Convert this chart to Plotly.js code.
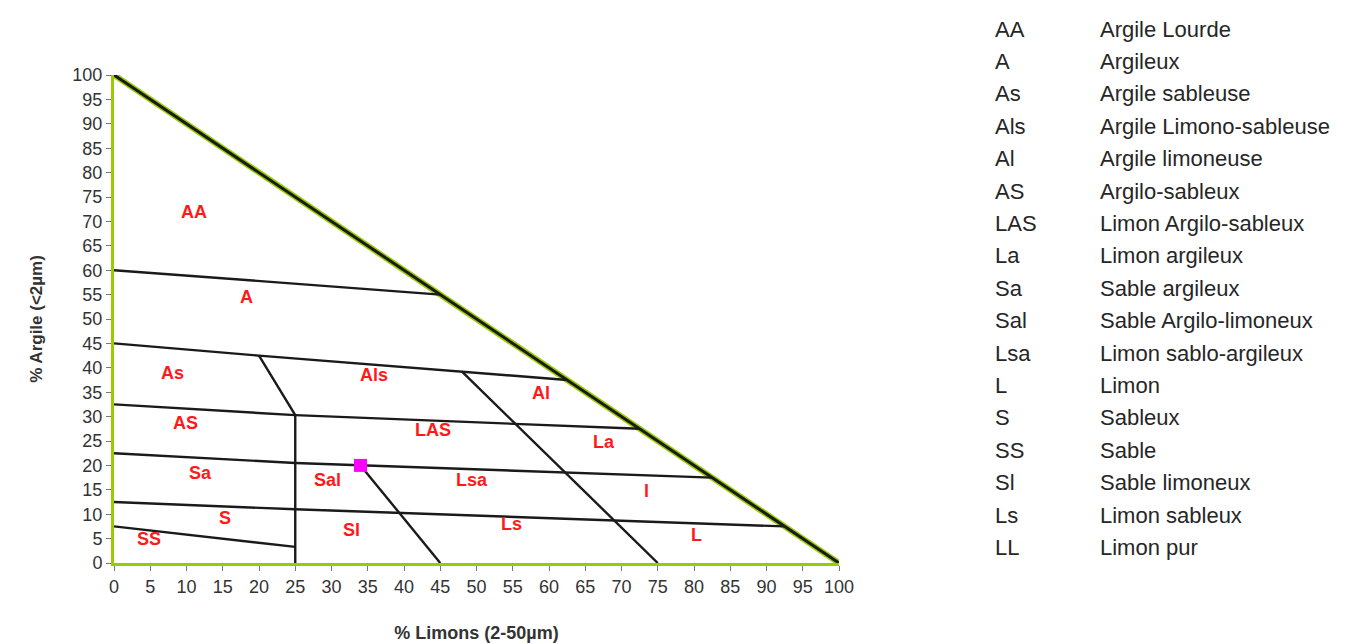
<!DOCTYPE html>
<html>
<head>
<meta charset="utf-8">
<script src="https://cdn.plot.ly/plotly-3.0.1.min.js"></script>
<style>html,body{margin:0;padding:0;background:#fff;}#chart{width:1369px;height:643px;}</style>
</head>
<body>
<div id="chart"></div>
<script>
// Triangle boundary (hypotenuse)
const hypX = [0, 100];
const hypY = [100, 0];
// Class boundary lines (% Limons, % Argile)
const line60X = [0, 45];          const line60Y = [60, 55];
const line45X = [0, 20, 62.5];    const line45Y = [45, 42.5, 37.5];
const line32X = [0, 25, 72.5];    const line32Y = [32.5, 30.3, 27.5];
const line22X = [0, 25, 82.5];    const line22Y = [22.5, 20.5, 17.5];
const line12X = [0, 25, 92.5];    const line12Y = [12.5, 11, 7.5];
const lineSSX = [0, 25];          const lineSSY = [7.5, 3.3];
const line25X = [20, 25, 25];     const line25Y = [42.5, 30.3, 0];
const diag45X = [34, 45];         const diag45Y = [20, 0];
const diag75X = [48, 75];         const diag75Y = [39.2, 0];
// Sample point
const sampleX = [34];
const sampleY = [20];
// Region labels
const regionNames = ["AA","A","As","Als","Al","AS","LAS","La","Sa","Sal","Lsa","l","S","Sl","Ls","L","SS"];
const regionX =     [11, 18.3, 8.1, 35.9, 58.9, 9.9, 44, 67.6, 11.9, 29.5, 49.4, 73.4, 15.3, 32.7, 54.8, 80.4, 4.8];
const regionY =     [72, 54.5, 38.9, 38.5, 34.8, 28.7, 27.3, 24.8, 18.4, 17, 17, 14.8, 9.2, 6.8, 8, 5.7, 4.9];
// Legend table
const legendCodes = ["AA","A","As","Als","Al","AS","LAS","La","Sa","Sal","Lsa","L","S","SS","Sl","Ls","LL"];
const legendNames = ["Argile Lourde","Argileux","Argile sableuse","Argile Limono-sableuse","Argile limoneuse",
  "Argilo-sableux","Limon Argilo-sableux","Limon argileux","Sable argileux","Sable Argilo-limoneux",
  "Limon sablo-argileux","Limon","Sableux","Sable","Sable limoneux","Limon sableux","Limon pur"];
const xTitle = "% Limons (2-50µm)";
const yTitle = "% Argile (<2µm)";

const FONT = "Liberation Sans, Arial, sans-serif";
const traces = [];
traces.push({x: hypX, y: hypY, mode: 'lines', line: {color: '#99cc00', width: 6}, hoverinfo: 'skip', cliponaxis: false});
traces.push({x: hypX, y: hypY, mode: 'lines', line: {color: '#1a1a1a', width: 3}, hoverinfo: 'skip', cliponaxis: false});
const inner = [[line60X,line60Y],[line45X,line45Y],[line32X,line32Y],[line22X,line22Y],[line12X,line12Y],
  [lineSSX,lineSSY],[line25X,line25Y],[diag45X,diag45Y],[diag75X,diag75Y]];
inner.forEach(([xs, ys]) => traces.push({x: xs, y: ys, mode: 'lines', line: {color: '#1a1a1a', width: 2.4}, hoverinfo: 'skip', cliponaxis: false}));
traces.push({x: sampleX, y: sampleY, mode: 'markers', marker: {symbol: 'square', size: 13, color: '#ff00ff'}, cliponaxis: false});

const L = 114, R = 839, T = 75, B = 563;
const annotations = regionNames.map((t, i) => ({
  x: regionX[i], y: regionY[i], xref: 'x', yref: 'y', text: '<b>' + t + '</b>', showarrow: false,
  font: {family: FONT, size: 18, color: '#ff1a1a'}
}));
const rowTop = 29, rowStep = 32.4;
legendCodes.forEach((c, i) => {
  const py = rowTop + i * rowStep;
  const yp = (B - py) / (B - T);
  annotations.push({x: (993 - L) / (R - L), y: yp, xref: 'paper', yref: 'paper', xanchor: 'left', yanchor: 'middle',
    text: c, showarrow: false, font: {family: FONT, size: 22, color: '#262626'}});
  annotations.push({x: (1098 - L) / (R - L), y: yp, xref: 'paper', yref: 'paper', xanchor: 'left', yanchor: 'middle',
    text: legendNames[i], showarrow: false, font: {family: FONT, size: 22, color: '#262626'}});
});

const layout = {
  width: 1369, height: 643,
  margin: {l: L, r: 1369 - R, t: T, b: 643 - B},
  paper_bgcolor: '#fff', plot_bgcolor: '#fff',
  showlegend: false,
  font: {family: FONT, color: '#333'},
  xaxis: {range: [0, 100], dtick: 5, tick0: 0, showgrid: false, zeroline: false, showline: true,
    linecolor: '#99cc00', linewidth: 3, ticks: 'outside', ticklen: 5, tickcolor: '#777', tickwidth: 1,
    tickfont: {family: FONT, size: 18, color: '#333'},
    title: {text: '<b>' + xTitle + '</b>', font: {family: FONT, size: 18, color: '#333'}, standoff: 38}},
  yaxis: {range: [0, 100], dtick: 5, tick0: 0, showgrid: false, zeroline: false, showline: true,
    linecolor: '#99cc00', linewidth: 3, ticks: 'outside', ticklen: 5, tickcolor: '#777', tickwidth: 1,
    tickfont: {family: FONT, size: 18, color: '#333'},
    title: {text: '<b>' + yTitle + '</b>', font: {family: FONT, size: 17, color: '#333'}, standoff: 26}},
  annotations: annotations
};
Plotly.newPlot('chart', traces, layout, {displayModeBar: false, staticPlot: true});
</script>
</body>
</html>
